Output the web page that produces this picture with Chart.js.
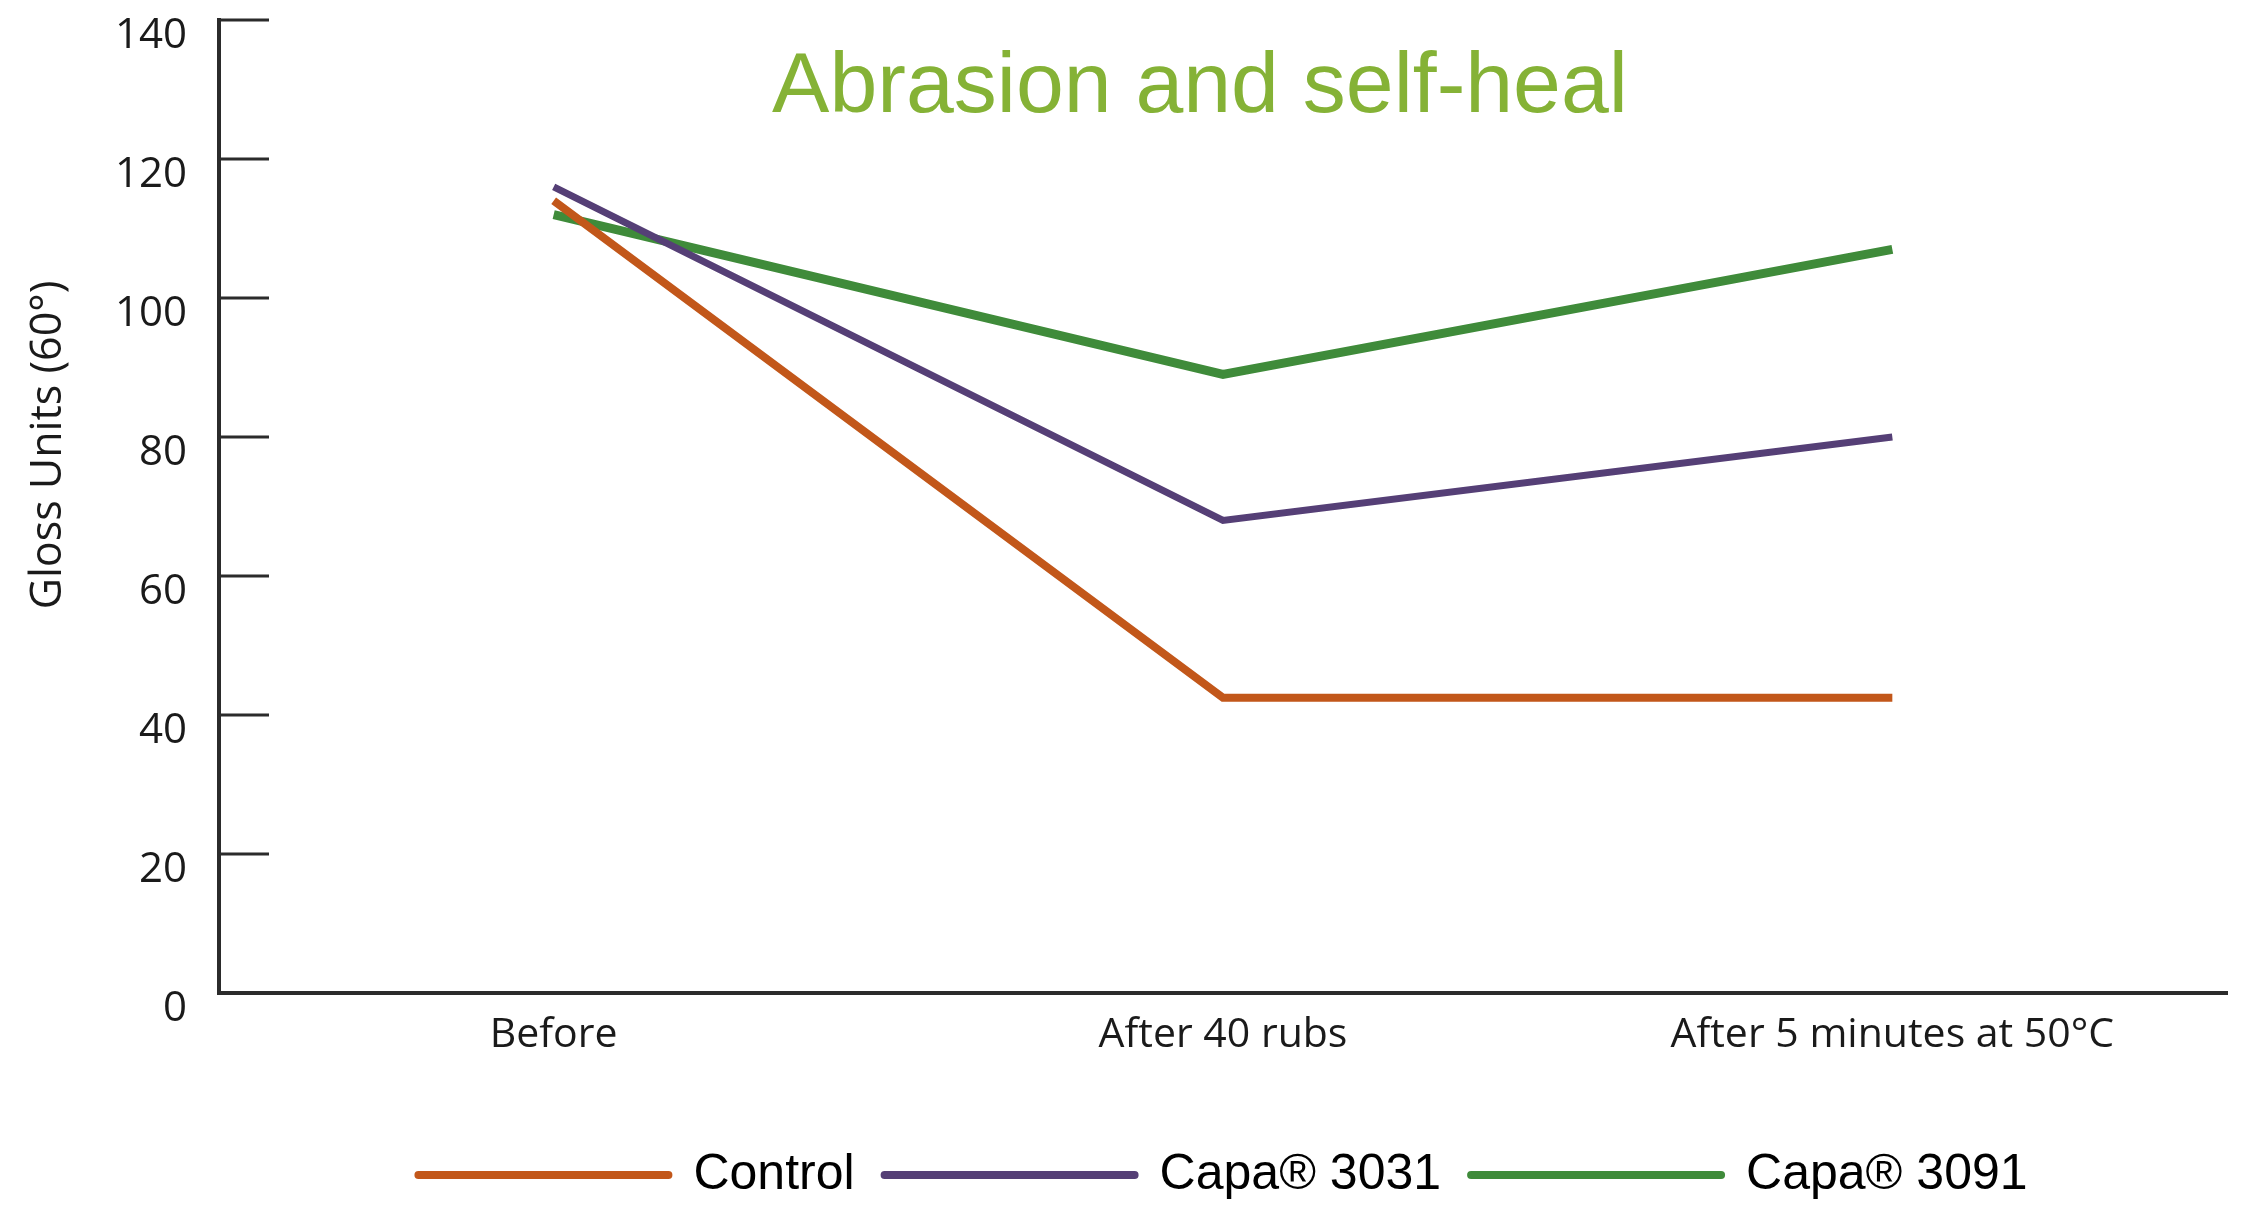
<!DOCTYPE html>
<html>
<head>
<meta charset="utf-8">
<title>Abrasion and self-heal</title>
<script src="https://cdn.jsdelivr.net/npm/chart.js@4.4.1/dist/chart.umd.min.js"></script>
<style>
    html, body { margin: 0; padding: 0; background: #ffffff; }
    #wrap { position: relative; width: 2248px; height: 1217px; }
</style>
</head>
<body>
<div id="wrap"><canvas id="glossChart"></canvas></div>
<script>
const categories = ['Before', 'After 40 rubs', 'After 5 minutes at 50°C'];
const controlValues = [114, 42.5, 42.5];
const capa3031Values = [116, 68, 80];
const capa3091Values = [112, 89, 107];
const yTicks = [0, 20, 40, 60, 80, 100, 120, 140];

const chartTitle = 'Abrasion and self-heal';
const yAxisTitle = 'Gloss Units (60°)';

// title sits inside the plot area, so draw it after the chart
const innerTitle = {
    id: 'innerTitle',
    afterDraw(chart) {
        const ctx = chart.ctx;
        ctx.save();
        ctx.font = '86px "Liberation Sans", Arial, sans-serif';
        ctx.fillStyle = '#85b236';
        ctx.textAlign = 'center';
        ctx.textBaseline = 'alphabetic';
        ctx.fillText(chartTitle, 1200, 112);
        ctx.restore();
    }
};

// axis title is set higher than the middle of the axis in the original
const sideTitle = {
    id: 'sideTitle',
    afterDraw(chart) {
        const ctx = chart.ctx;
        ctx.save();
        ctx.translate(49, 445);
        ctx.rotate(-Math.PI / 2);
        ctx.font = '43px "Open Sans", sans-serif';
        ctx.fillStyle = '#1a1a1a';
        ctx.textAlign = 'center';
        ctx.textBaseline = 'middle';
        ctx.fillText(yAxisTitle, 0, 0);
        ctx.restore();
    }
};

// short tick marks pointing into the plot area
const inwardTicks = {
    id: 'inwardTicks',
    afterDraw(chart) {
        const y = chart.scales.y;
        const ctx = chart.ctx;
        ctx.save();
        ctx.strokeStyle = '#2b2b2b';
        ctx.lineWidth = 3;
        yTicks.forEach(function(v) {
            if (v === 0) return;
            const py = y.getPixelForValue(v);
            ctx.beginPath();
            ctx.moveTo(y.right, py);
            ctx.lineTo(y.right + 50, py);
            ctx.stroke();
        });
        ctx.restore();
    }
};

new Chart(document.getElementById('glossChart'), {
    type: 'line',
    data: {
        labels: categories,
        datasets: [{
            label: 'Control',
            data: controlValues,
            borderColor: '#c2571a',
            backgroundColor: '#c2571a',
            borderWidth: 8,
            pointRadius: 0,
            tension: 0
        }, {
            label: 'Capa® 3031',
            data: capa3031Values,
            borderColor: '#553f76',
            backgroundColor: '#553f76',
            borderWidth: 7,
            pointRadius: 0,
            tension: 0
        }, {
            label: 'Capa® 3091',
            data: capa3091Values,
            borderColor: '#3f8b3a',
            backgroundColor: '#3f8b3a',
            borderWidth: 9,
            pointRadius: 0,
            tension: 0
        }]
    },
    options: {
        responsive: true,
        maintainAspectRatio: false,
        animation: false,
        layout: {
            padding: { left: 15, right: 21, top: 0, bottom: 7 }
        },
        plugins: {
            legend: {
                position: 'bottom',
                fullSize: false,
                labels: {
                    usePointStyle: true,
                    pointStyle: 'line',
                    pointStyleWidth: 250,
                    boxHeight: 8,
                    padding: 30,
                    color: '#111111',
                    font: {
                        family: '"Liberation Sans", Arial, sans-serif',
                        size: 50
                    },
                    generateLabels(chart) {
                        return chart.data.datasets.map(function(ds, i) {
                            return {
                                text: ds.label,
                                fillStyle: ds.borderColor,
                                strokeStyle: ds.borderColor,
                                lineWidth: 8,
                                lineCap: 'round',
                                pointStyle: 'line',
                                datasetIndex: i,
                                hidden: false
                            };
                        });
                    }
                }
            },
            tooltip: {
                enabled: false
            }
        },
        scales: {
            x: {
                offset: true,
                afterFit(scale) {
                    scale.height = 127;
                },
                grid: {
                    display: false,
                    drawTicks: false
                },
                border: {
                    display: true,
                    color: '#2b2b2b',
                    width: 4
                },
                ticks: {
                    color: '#1a1a1a',
                    padding: 18,
                    maxRotation: 0,
                    font: {
                        family: '"Open Sans", sans-serif',
                        size: 41
                    }
                }
            },
            y: {
                min: 0,
                max: 140,
                afterFit(scale) {
                    scale.width = 204;
                    scale.paddingTop = 20;
                    scale.paddingBottom = 20;
                },
                afterBuildTicks(scale) {
                    scale.ticks = yTicks.map(function(v) { return { value: v }; });
                },
                grid: {
                    display: false,
                    drawTicks: false
                },
                border: {
                    display: true,
                    color: '#2b2b2b',
                    width: 4
                },
                ticks: {
                    color: '#1a1a1a',
                    padding: 32,
                    labelOffset: 16,
                    font: {
                        family: '"Open Sans", sans-serif',
                        size: 42,
                        lineHeight: 1
                    }
                },
                title: {
                    display: false
                }
            }
        }
    },
    plugins: [innerTitle, sideTitle, inwardTicks]
});
</script>
</body>
</html>
